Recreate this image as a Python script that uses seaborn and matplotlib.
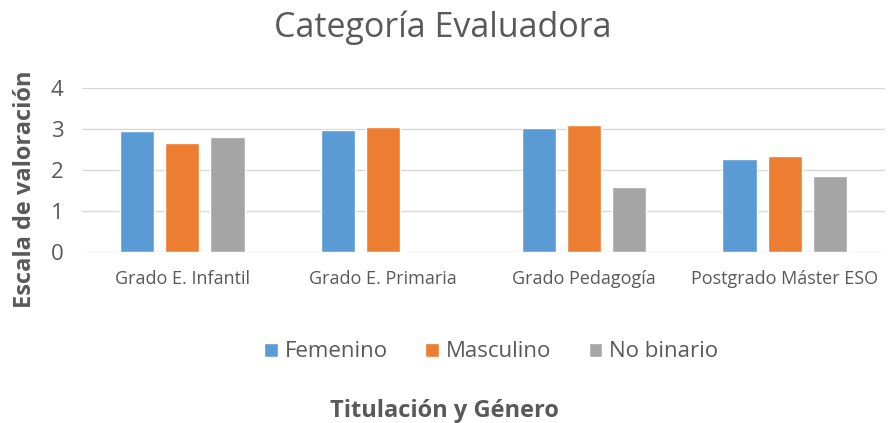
import matplotlib
matplotlib.use("Agg")
import matplotlib.pyplot as plt
import numpy as np
import pandas as pd
import seaborn as sns

# Values (Primaria has no "No binario" bar)
titulaciones = ["Grado E. Infantil", "Grado E. Primaria", "Grado Pedagogía", "Postgrado Máster ESO"]
generos = ["Femenino", "Masculino", "No binario"]
femenino = [2.94, 2.97, 3.02, 2.26]
masculino = [2.67, 3.06, 3.11, 2.34]
no_binario = [2.80, np.nan, 1.59, 1.86]

colores = ["#5B9BD5", "#ED7D31", "#A5A5A5"]
gris_texto = "#595959"

df = pd.DataFrame({
    "Titulación": titulaciones * 3,
    "Género": [g for g in generos for _ in titulaciones],
    "Valor": femenino + masculino + no_binario,
})

sns.set_theme(style="white")
plt.rcParams["font.family"] = ["Open Sans", "DejaVu Sans"]

fig = plt.figure(figsize=(8.88, 4.23), dpi=100)
ax = fig.add_axes([0.092, 0.404, 0.905, 0.388])

sns.barplot(
    data=df, x="Titulación", y="Valor", hue="Género", hue_order=generos,
    order=titulaciones, palette=colores, width=0.675, gap=0.24,
    saturation=1, ax=ax, errorbar=None, legend=True,
)

ax.set_ylim(0, 4)
ax.set_yticks([0, 1, 2, 3, 4])
ax.set_xlim(-0.5, 3.5)
ax.yaxis.grid(True, color="#D9D9D9", linewidth=1)
ax.set_axisbelow(True)
for s in ax.spines.values():
    s.set_visible(False)
ax.tick_params(axis="y", labelsize=16, colors=gris_texto, length=0, pad=13)
ax.tick_params(axis="x", labelsize=13, colors=gris_texto, length=0, pad=13)

ax.set_xlabel("")
ax.set_ylabel("")
fig.text(25 / 888, 0.553, "Escala de valoración", rotation=90, ha="center", va="center",
         fontsize=17, fontweight="bold", color=gris_texto)
fig.text(0.5, 0.014, "Titulación y Género", ha="center", va="baseline", fontsize=17,
         fontweight="bold", color=gris_texto)
fig.text(0.499, 0.935, "Categoría Evaluadora", ha="center", va="center",
         fontsize=24.5, color=gris_texto)

handles, labels = ax.get_legend_handles_labels()
ax.legend_.remove()
fig.legend(handles, labels, loc="center", bbox_to_anchor=(0.553, 0.168), ncol=3,
           frameon=False, fontsize=16, handlelength=0.6, handleheight=0.6,
           handletextpad=0.3, columnspacing=1.7, labelcolor=gris_texto)

fig.savefig("out.png", dpi=100)
